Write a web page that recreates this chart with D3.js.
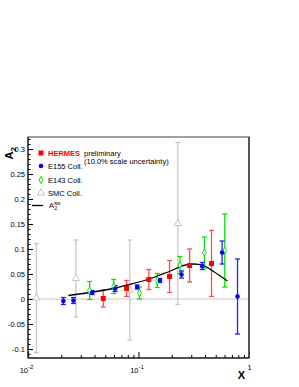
<!DOCTYPE html>
<html>
<head>
<meta charset="utf-8">
<script src="https://cdn.jsdelivr.net/npm/d3@7"></script>
<style>
  body { margin: 0; background: #fff; }
  svg { font-family: "Liberation Sans", Arial, sans-serif; }
</style>
</head>
<body>
<div id="chart"></div>
<script>
// values
var hermesX = [0.048, 0.078, 0.124, 0.191, 0.290, 0.458];
var hermesY = [0.001, 0.021, 0.039, 0.045, 0.067, 0.071];
var hermesErr = [0.017, 0.016, 0.020, 0.032, 0.033, 0.066];

var e155X = [0.0209, 0.0258, 0.0381, 0.0616, 0.0973, 0.156, 0.245, 0.377, 0.571, 0.787];
var e155Y = [-0.004, -0.003, 0.013, 0.021, 0.024, 0.037, 0.049, 0.066, 0.093, 0.005];
var e155Err = [0.007, 0.006, 0.004, 0.006, 0.004, 0.004, 0.007, 0.007, 0.023, 0.075];

var e143X = [0.0361, 0.0597, 0.102, 0.148, 0.237, 0.395, 0.604];
var e143Y = [0.017, 0.025, 0.012, 0.037, 0.068, 0.093, 0.097];
var e143Err = [0.018, 0.014, 0.012, 0.014, 0.017, 0.031, 0.073];

var smcX = [0.0119, 0.0271, 0.0834, 0.227];
var smcY = [0.002, 0.041, 0.018, 0.151];
var smcErr = [0.109, 0.077, 0.100, 0.162];

var wwX = [0.0232, 0.0368, 0.0594, 0.0794, 0.1257, 0.152, 0.195, 0.255, 0.315, 0.387, 0.478, 0.638];
var wwY = [0.007, 0.013, 0.021, 0.028, 0.040, 0.047, 0.056, 0.067, 0.070, 0.067, 0.055, 0.036];

var yTicks = [-0.1, -0.05, 0, 0.05, 0.1, 0.15, 0.2, 0.25, 0.3];
var yTickLabels = ["-0.1", "-0.05", "0", "0.05", "0.1", "0.15", "0.2", "0.25", "0.3"];
var xTicks = [0.01, 0.1, 1];
var xTickExp = ["-2", "-1", ""];

var W = 299, H = 387;
var fL = 28, fR = 249, fT = 137, fB = 358;

var svg = d3.select("#chart").append("svg")
    .attr("width", W)
    .attr("height", H);

var x = d3.scaleLog().domain([0.01, 1]).range([fL, fR]);
var y = d3.scaleLinear().domain([-0.118, 0.324]).range([fB, fT]);

// zero line
svg.append("line")
  .attr("x1", fL).attr("x2", fR)
  .attr("y1", y(0)).attr("y2", y(0))
  .attr("stroke", "#c8c8c8").attr("stroke-width", 1);

// y axis, ticks pointing inward
var yMinor = d3.range(-110, 321, 10).map(function(d) { return d / 1000; });
svg.append("g")
  .attr("transform", "translate(" + fL + ",0)")
  .call(d3.axisLeft(y).tickValues(yMinor).tickSize(-2.5).tickFormat(""))
  .call(function(g) { g.select(".domain").remove(); });

var yAxis = svg.append("g")
  .attr("transform", "translate(" + fL + ",0)")
  .call(d3.axisLeft(y).tickValues(yTicks).tickSize(-5).tickPadding(3)
    .tickFormat(function(d, i) { return yTickLabels[i]; }));
yAxis.select(".domain").remove();
yAxis.selectAll("text").attr("font-size", 7.5).attr("font-family", "Liberation Sans, Arial, sans-serif").attr("fill", "#000");

// x axis
var xMinor = [];
[0.01, 0.1].forEach(function(b) {
  for (var k = 2; k <= 9; k++) xMinor.push(b * k);
});
svg.append("g")
  .attr("transform", "translate(0," + fB + ")")
  .call(d3.axisBottom(x).tickValues(xMinor).tickSize(-3).tickFormat(""))
  .call(function(g) { g.select(".domain").remove(); });

var xAxis = svg.append("g")
  .attr("transform", "translate(0," + fB + ")")
  .call(d3.axisBottom(x).tickValues(xTicks).tickSize(-6).tickFormat(""));
xAxis.select(".domain").remove();

xAxis.selectAll(".tick").each(function(d, i) {
  var t = d3.select(this).append("text")
    .attr("fill", "#000")
    .attr("font-size", 7.5)
    .attr("font-family", "Liberation Sans, Arial, sans-serif")
    .attr("text-anchor", "middle");
  if (xTickExp[i] === "") {
    t.attr("y", 12).text("1");
  } else {
    t.attr("y", 15).attr("x", -2).text("10");
    t.append("tspan").attr("dy", -4).attr("font-size", 6).text(xTickExp[i]);
  }
});

// frame
svg.append("rect")
  .attr("x", fL).attr("y", fT)
  .attr("width", fR - fL).attr("height", fB - fT)
  .attr("fill", "none").attr("stroke", "#444").attr("stroke-width", 1);
svg.append("line")
  .attr("x1", fR).attr("x2", fR).attr("y1", fT).attr("y2", fB)
  .attr("stroke", "#444").attr("stroke-width", 1.6);
svg.append("line")
  .attr("x1", fL).attr("x2", fL).attr("y1", fT).attr("y2", fB)
  .attr("stroke", "#000").attr("stroke-width", 1);
svg.append("line")
  .attr("x1", fL).attr("x2", fR).attr("y1", fB).attr("y2", fB)
  .attr("stroke", "#000").attr("stroke-width", 1);

// error bars helper
function errorBars(xs, ys, es, color, w) {
  var g = svg.append("g").attr("stroke", color).attr("stroke-width", w);
  xs.forEach(function(xv, i) {
    var px = x(xv), y1 = y(ys[i] + es[i]), y2 = y(ys[i] - es[i]);
    g.append("line").attr("x1", px).attr("x2", px).attr("y1", y1).attr("y2", y2);
    g.append("line").attr("x1", px - 2.5).attr("x2", px + 2.5).attr("y1", y1).attr("y2", y1);
    g.append("line").attr("x1", px - 2.5).attr("x2", px + 2.5).attr("y1", y2).attr("y2", y2);
  });
}

errorBars(smcX, smcY, smcErr, "#c4c4c4", 1.2);
errorBars(hermesX, hermesY, hermesErr, "#ff4c4c", 1.3);
errorBars(e143X, e143Y, e143Err, "#00e600", 1.3);
errorBars(e155X, e155Y, e155Err, "#2020ff", 1.3);

// A2 ww curve
var ww = wwX.map(function(d, i) { return [d, wwY[i]]; });
svg.append("path")
  .datum(ww)
  .attr("fill", "none")
  .attr("stroke", "#000")
  .attr("stroke-width", 1.3)
  .attr("d", d3.line()
    .x(function(d) { return x(d[0]); })
    .y(function(d) { return y(d[1]); })
    .curve(d3.curveCatmullRom));

// markers
var tri = d3.symbol().type(d3.symbolTriangle).size(22);
var dia = d3.symbol().type(d3.symbolDiamond).size(14);

svg.append("g").selectAll("path")
  .data(smcX)
  .enter().append("path")
  .attr("d", tri)
  .attr("transform", function(d, i) { return "translate(" + x(d) + "," + y(smcY[i]) + ")"; })
  .attr("fill", "#fff").attr("stroke", "#c4c4c4").attr("stroke-width", 1);

svg.append("g").selectAll("rect")
  .data(hermesX)
  .enter().append("rect")
  .attr("x", function(d) { return x(d) - 2.5; })
  .attr("y", function(d, i) { return y(hermesY[i]) - 2.5; })
  .attr("width", 5).attr("height", 5)
  .attr("fill", "#ff0000");

svg.append("g").selectAll("path")
  .data(e143X)
  .enter().append("path")
  .attr("d", dia)
  .attr("transform", function(d, i) { return "translate(" + x(d) + "," + y(e143Y[i]) + ")"; })
  .attr("fill", "#fff").attr("stroke", "#00e600").attr("stroke-width", 1);

svg.append("g").selectAll("circle")
  .data(e155X)
  .enter().append("circle")
  .attr("cx", function(d) { return x(d); })
  .attr("cy", function(d, i) { return y(e155Y[i]); })
  .attr("r", 2.3)
  .attr("fill", "#0000ff");

// legend
var lg = svg.append("g").attr("font-size", 7.5);
lg.append("rect").attr("x", 38.5).attr("y", 150.5).attr("width", 5).attr("height", 5).attr("fill", "#ff0000");
lg.append("text").attr("x", 48).attr("y", 156).attr("fill", "#ff0000").attr("font-weight", "bold").text("HERMES");
lg.append("text").attr("x", 84).attr("y", 156).attr("fill", "#000").text("preliminary");
lg.append("text").attr("x", 84).attr("y", 163.5).attr("fill", "#000").text("(10.0% scale uncertainty)");

lg.append("circle").attr("cx", 41).attr("cy", 166).attr("r", 2.3).attr("fill", "#0000ff");
lg.append("text").attr("x", 48).attr("y", 168.5).attr("fill", "#000").text("E155 Coll.");

lg.append("path").attr("d", dia).attr("transform", "translate(41,180)")
  .attr("fill", "#fff").attr("stroke", "#00e600").attr("stroke-width", 1);
lg.append("text").attr("x", 48).attr("y", 182.5).attr("fill", "#000").text("E143 Coll.");

lg.append("path").attr("d", tri).attr("transform", "translate(41,193)")
  .attr("fill", "#fff").attr("stroke", "#c4c4c4").attr("stroke-width", 1);
lg.append("text").attr("x", 48).attr("y", 195.5).attr("fill", "#000").text("SMC Coll.");

lg.append("line").attr("x1", 32).attr("x2", 43).attr("y1", 205.5).attr("y2", 205.5)
  .attr("stroke", "#000").attr("stroke-width", 1.3);
var aw = lg.append("text").attr("x", 49).attr("y", 207.5).attr("fill", "#000").text("A");
aw.append("tspan").attr("font-size", 4.5).attr("dy", -3).text("ww");
aw.append("tspan").attr("font-size", 5).attr("dx", -6).attr("dy", 5.5).text("2");

// axis titles
var yt = svg.append("text")
  .attr("transform", "translate(13,147) rotate(-90)")
  .attr("text-anchor", "end")
  .attr("fill", "#000")
  .attr("font-size", 11).attr("font-weight", "bold")
  .text("A");
yt.append("tspan").attr("font-size", 8).attr("dy", 3).text("2");

svg.append("text")
  .attr("x", 245).attr("y", 379)
  .attr("text-anchor", "end")
  .attr("fill", "#000")
  .attr("font-size", 11).attr("font-weight", "bold")
  .text("X");
</script>
</body>
</html>
